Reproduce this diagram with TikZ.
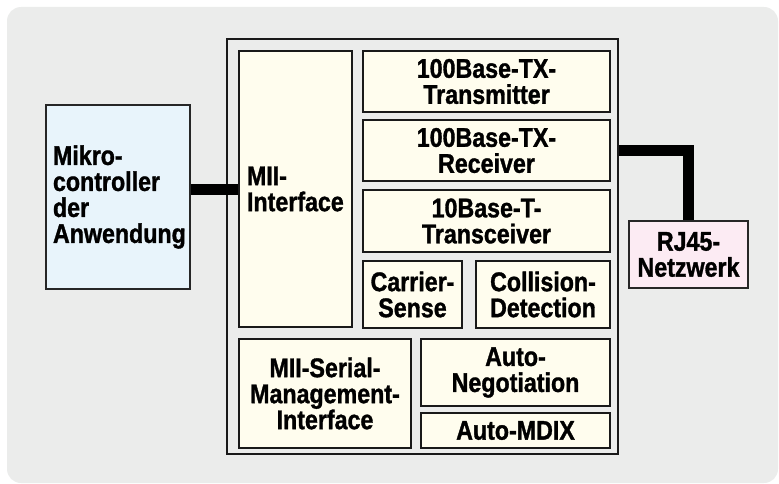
\documentclass[tikz,border=0pt]{standalone}
\usepackage{fontspec}
\setmainfont[FakeStretch=0.86,BoldFeatures={FakeBold=1.2}]{Liberation Sans}
\usetikzlibrary{positioning,calc}
\definecolor{bggrey}{HTML}{EBECEB}
\definecolor{blkfill}{HTML}{FFFDEE}
\definecolor{mcfill}{HTML}{E8F4FB}
\definecolor{rjfill}{HTML}{FCEBF3}
\begin{document}
\begin{tikzpicture}[x=1pt,y=-1pt,font=\fontsize{27}{26}\selectfont\bfseries]
\tikzstyle{blk}=[draw=black!90,line width=2pt,fill=blkfill,inner sep=0pt,align=center]
\tikzstyle{ext}=[draw=black!85,line width=1.6pt,inner sep=0pt]
\tikzstyle{bus}=[line width=11pt,line join=miter]
\useasboundingbox (0,0) rectangle (779,484);
\fill[bggrey,rounded corners=14pt] (7,7) rectangle (778,483);
% PHY-Baustein
\node[draw=black!90,line width=1.8pt,fill=bggrey,minimum width=391pt,minimum height=415pt] (chip) at (422.5,246.5) {};
\foreach \nm/\xx/\yy/\w/\h/\txt in {tx/486.5/81.5/247/61/{100Base-TX-\\Transmitter}, rx/486.5/150.5/247/61/{100Base-TX-\\Receiver}, trx/486.5/221/247/62/{10Base-T-\\Transceiver}, cs/412.5/294.5/99/67/{Carrier-\\Sense}, cd/543/294.5/134/67/{Collision-\\Detection}, msmi/325/393.5/172/109/{MII-Serial-\\Management-\\Interface}, an/515.5/372.5/189/67/{Auto-\\Negotiation}, mdix/515.5/430.5/189/35/{Auto-MDIX}} {
  \node[blk,minimum width=\w pt,minimum height=\h pt] (\nm) at (\xx,\yy) {\txt};
}
\node[blk,align=left,inner xsep=8pt,text width=97pt,minimum height=276pt] (mii) at (295.5,189) {MII-\\Interface};
% externe Teile
\node[ext,fill=mcfill,align=left,inner xsep=7pt,text width=130pt,minimum height=184pt] (mc) at (118,197) {Mikro-\\controller\\der\\Anwendung};
\node[ext,fill=rjfill,align=center,minimum width=119pt,minimum height=67pt] (rj) at (688.5,254.5) {RJ45-\\Netzwerk};
\draw[bus] (mii.west) -- (mii.west -| mc.east);
\draw[bus] (rx.east -| chip.east) -| (rj.north);
\end{tikzpicture}
\end{document}
